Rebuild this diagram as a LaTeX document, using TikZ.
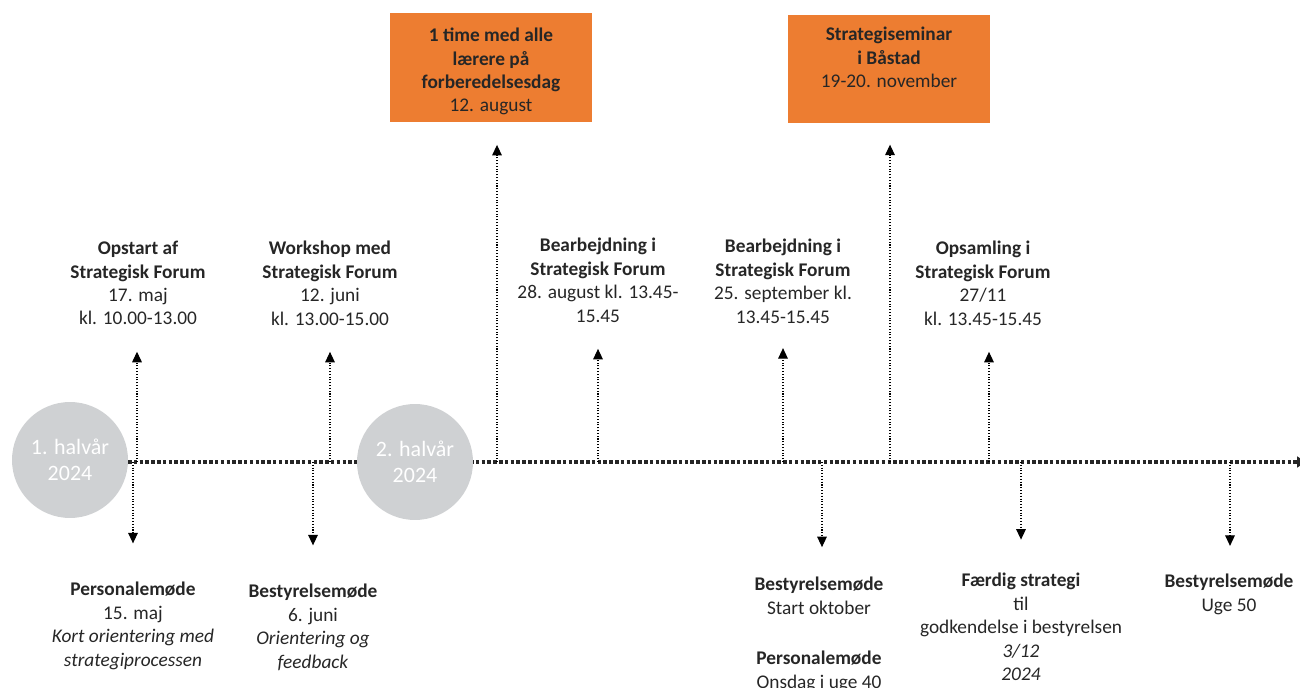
\documentclass[tikz,border=0pt]{standalone}
\usepackage{fontspec}
\setmainfont{Carlito}
\usepackage{tikz}
\usetikzlibrary{arrows.meta}

\definecolor{orng}{RGB}{237,125,49}
\definecolor{halvgray}{RGB}{207,209,211}

\begin{document}
\begin{tikzpicture}[x=0.02cm,y=-0.02cm]
		\tikzset{
			evtext/.style={
				align=center, inner sep=0pt, text=black!85,
				font=\fontsize{11}{13.3}\selectfont
			},
			uptext/.style={
				evtext, anchor=north
			},
			orbox/.style={
				evtext, fill=orng, minimum width=4.06cm, minimum height=2.17cm
			},
			halv/.style={
				circle, fill=halvgray, minimum size=2.32cm, inner sep=0pt,
				align=center, text=white, font=\fontsize{12.5}{14.7}\selectfont
			},
			tline/.style={
				line width=2pt, dash pattern=on 2pt off 1.3pt, black!85
			},
			conn/.style={
				line width=0.6pt, densely dotted, black,
				-{Triangle[width=5.5pt,length=6pt]}
			}
		}
		\useasboundingbox (0,0) rectangle (1300,688);
		
		% timeline
		\coordinate (tstart) at (128,462);
		\coordinate (tend) at (1306,462);
		\draw[tline, -{Triangle[width=6pt,length=5pt]}] (tstart) -- (tend);
		
		\node [halv] (h1) at (70,460) {1. halvår\\2024};
		\node [halv] (h2) at (415,462) {2. halvår\\2024};
		
		% above the line
		\node [uptext] (opstart) at (138,241) {\textbf{Opstart af}\\\textbf{Strategisk Forum}\\17. maj\\kl. 10.00-13.00};
		\node [uptext] (workshop) at (330,241) {\textbf{Workshop med}\\\textbf{Strategisk Forum}\\12. juni\\kl. 13.00-15.00};
		\node [uptext] (bearbA) at (598,238) {\textbf{Bearbejdning i}\\\textbf{Strategisk Forum}\\28. august kl. 13.45-\\15.45};
		\node [uptext] (bearbB) at (783,239) {\textbf{Bearbejdning i}\\\textbf{Strategisk Forum}\\25. september kl.\\13.45-15.45};
		\node [uptext] (opsaml) at (983,241) {\textbf{Opsamling i}\\\textbf{Strategisk Forum}\\27/11\\kl. 13.45-15.45};
		\node [orbox] (lærere) at (491,67.5) {\rule{0pt}{12.5pt}\textbf{1 time med alle}\\\textbf{lærere på}\\\textbf{forberedelsesdag}\\12. august};
		\node [orbox] (seminar) at (889,69) {\textbf{Strategiseminar}\\\textbf{i Båstad}\\19-20. november\\~};
		
		% below the line
		\node [uptext] (persA) at (133,582) {\textbf{Personalemøde}\\15. maj\\\textit{Kort orientering med}\\\textit{strategiprocessen}};
		\node [uptext] (bestA) at (313,584) {\textbf{Bestyrelsemøde}\\6. juni\\\textit{Orientering og}\\\textit{feedback}};
		\node [uptext] (bestB) at (819,577) {\textbf{Bestyrelsemøde}\\Start oktober};
		\node [uptext] (persB) at (819,651) {\textbf{Personalemøde}\\Onsdag i uge 40};
		\node [uptext] (faerdig) at (1021,573) {\textbf{Færdig strategi}\\til\\godkendelse i bestyrelsen\\\textit{3/12}\\\textit{2024}};
		\node [uptext] (bestC) at (1229,574) {\textbf{Bestyrelsemøde}\\Uge 50};
		
		\foreach \x/\n/\s in {137/opstart/15, 330/workshop/15, 497/lærere/13, 598/bearbA/15,
			783/bearbB/14, 890/seminar/12, 989/opsaml/15}{
			\coordinate (u\n) at (\x,462);
			\draw [conn, shorten >=\s pt] (u\n) -- (u\n |- \n.south);
		}
		
		\foreach \x/\n/\s in {133/persA/22, 313/bestA/22, 822/bestB/17, 1021/faerdig/19, 1230/bestC/16}{
			\coordinate (d\n) at (\x,462);
			\draw [conn, shorten >=\s pt] (d\n) -- (d\n |- \n.north);
		}
\end{tikzpicture}
\end{document}
